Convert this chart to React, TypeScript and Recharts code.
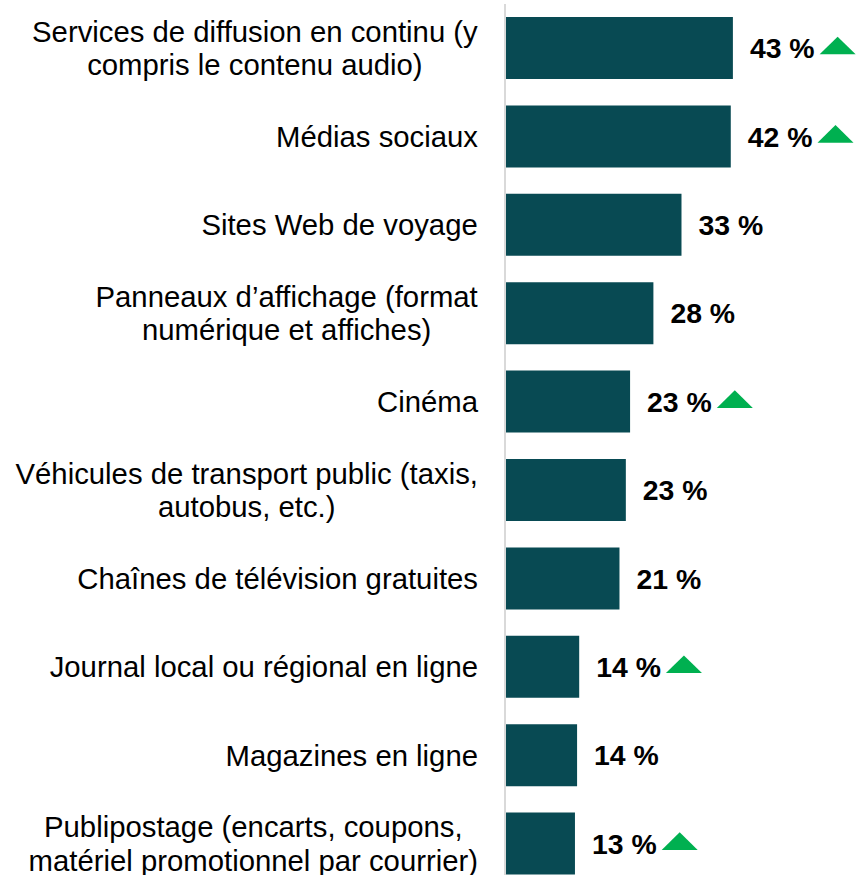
import React from 'react';
import { BarChart, Bar, XAxis, YAxis, LabelList } from 'recharts';

const categories: string[][] = [
  ['Services de diffusion en continu (y', 'compris le contenu audio)'],
  ['Médias sociaux'],
  ['Sites Web de voyage'],
  ['Panneaux d\u2019affichage (format', 'numérique et affiches)'],
  ['Cinéma'],
  ['Véhicules de transport public (taxis,', 'autobus, etc.)'],
  ['Chaînes de télévision gratuites'],
  ['Journal local ou régional en ligne'],
  ['Magazines en ligne'],
  ['Publipostage (encarts, coupons,', 'matériel promotionnel par courrier)'],
];

const values: number[] = [43, 42.6, 33.3, 28.0, 23.6, 22.8, 21.6, 14.0, 13.6, 13.2];

const valueLabels: string[] = ['43 %', '42 %', '33 %', '28 %', '23 %', '23 %', '21 %', '14 %', '14 %', '13 %'];

const upFlags: boolean[] = [true, true, false, false, true, false, false, true, false, true];

const data = categories.map((c, i) => ({
  name: String(i),
  value: values[i],
  label: valueLabels[i],
  up: upFlags[i],
}));

const FONT = '"Liberation Sans", Arial, Helvetica, sans-serif';
const BAR_COLOR = '#084a53';
const UP_COLOR = '#00b050';

// Arial / Liberation Sans regular advance widths (per 1000 em)
const REG: Record<string, number> = {
  a: 556, b: 556, c: 500, d: 556, e: 556, f: 278, g: 556, h: 556, i: 222, j: 222, k: 500, l: 222, m: 833,
  n: 556, o: 556, p: 556, q: 556, r: 333, s: 500, t: 278, u: 556, v: 500, w: 722, x: 500, y: 500, z: 500,
  A: 667, B: 667, C: 722, D: 722, E: 667, F: 611, G: 778, H: 722, I: 278, J: 500, K: 667, L: 556, M: 833,
  N: 722, O: 778, P: 667, Q: 778, R: 722, S: 667, T: 611, U: 722, V: 667, W: 944, X: 667, Y: 667, Z: 611,
  ' ': 278, '(': 333, ')': 333, ',': 278, '.': 278, '\u2019': 222, 'é': 556, 'è': 556, 'î': 278,
};

const textWidth = (s: string, fs: number) =>
  s.split('').reduce((acc, ch) => acc + (REG[ch] ?? 556), 0) / 1000 * fs;

const boldW = (ch: string) => {
  if (/[0-9]/.test(ch)) return 0.556;
  if (ch === ' ') return 0.278;
  if (ch === '%') return 0.889;
  return 0.556;
};

const CAT_FS = 29.3;

const CategoryTick = (props: any) => {
  const { x, y, payload } = props;
  const idx = Number(payload.value);
  const lines = categories[idx] || [];
  const n = lines.length;
  const lh = 33.3;
  const maxW = Math.max(...lines.map((l) => textWidth(l, CAT_FS)));
  const cx = x - maxW / 2;
  return (
    <text textAnchor="middle" fontFamily={FONT} fontSize={CAT_FS} fill="#000">
      {lines.map((ln, i) => (
        <tspan key={i} x={cx} y={y + (i - (n - 1) / 2) * lh + 10.3}>
          {ln}
        </tspan>
      ))}
    </text>
  );
};

const ValueLabel = (props: any) => {
  const { x, y, width, height, index } = props;
  const text = valueLabels[index];
  const fs = 28.4;
  const tx = x + width + 17;
  const cy = y + height / 2;
  const tw = text.split('').reduce((s, ch) => s + boldW(ch), 0) * fs;
  const triX = tx + tw + 5;
  return (
    <g>
      <text x={tx} y={cy + 10.2} fontFamily={FONT} fontSize={fs} fontWeight="bold" fill="#000">
        {text}
      </text>
      {upFlags[index] && (
        <polygon
          points={`${triX},${cy + 6.3} ${triX + 36},${cy + 6.3} ${triX + 18},${cy - 11.3}`}
          fill={UP_COLOR}
        />
      )}
    </g>
  );
};

export default function App() {
  return (
    <div style={{ position: 'absolute', left: 0, top: 0, background: '#fff' }}>
      <BarChart
        width={856}
        height={888}
        data={data}
        layout="vertical"
        margin={{ top: 4, right: 86, bottom: 0, left: 0 }}
        barSize={62}
      >
        <XAxis type="number" domain={[0, 50]} hide />
        <YAxis
          type="category"
          dataKey="name"
          width={505}
          axisLine={{ stroke: '#d9d9d9', strokeWidth: 2 }}
          tickLine={false}
          tickSize={6}
          tickMargin={21}
          interval={0}
          tick={<CategoryTick />}
        />
        <Bar dataKey="value" fill={BAR_COLOR} isAnimationActive={false}>
          <LabelList dataKey="label" content={<ValueLabel />} />
        </Bar>
      </BarChart>
    </div>
  );
}
